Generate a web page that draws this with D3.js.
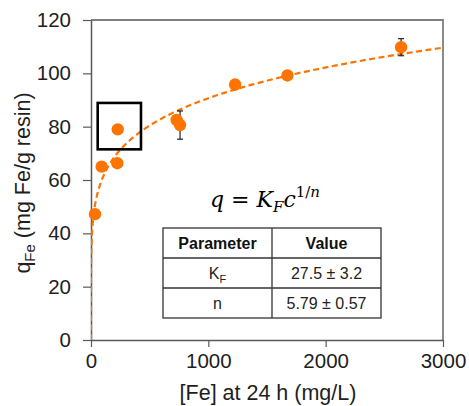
<!DOCTYPE html>
<html>
<head>
<meta charset="utf-8">
<script src="https://cdn.jsdelivr.net/npm/d3@7"></script>
<style>
  body { margin: 0; background: #fff; }
  svg { display: block; font-family: "Liberation Sans", Arial, sans-serif; }
</style>
</head>
<body>
<svg class="chart" width="469" height="406"></svg>
<script>
// measured points
var concentration = [34, 91, 224, 228, 730, 759, 1228, 1674, 2643];
var qFe = [47.2, 65, 66.3, 79, 82.5, 80.6, 95.8, 99.2, 109.8];
var qErr = [0, 0, 0, 0, 0, 5.3, 0, 0, 3.2];

// Freundlich fit parameters
var kF = 27.5, nF = 5.79;

var xTicks = [0, 1000, 2000, 3000];
var yTicks = [0, 20, 40, 60, 80, 100, 120];

var tableHeader = ["Parameter", "Value"];
var tableRows = [["K", "F", "27.5 ± 3.2"], ["n", "", "5.79 ± 0.57"]];

// highlighted region (data units)
var boxX = [57, 426], boxY = [71.5, 88.9];

(function () {
    'use strict';

    var svg = d3.select("svg.chart");
    var mLeft = 91, mRight = 443, mTop = 20, mBottom = 340;
    var ink = "#1e1e1e", orange = "#ff7300";

    var x = d3.scaleLinear().domain([0, 3000]).range([mLeft, mRight]);
    var y = d3.scaleLinear().domain([0, 120]).range([mBottom, mTop]);

    // frame on top/right
    svg.append("path")
        .attr("d", "M" + mLeft + "," + mTop + "H" + mRight + "V" + mBottom)
        .attr("fill", "none")
        .attr("stroke", "#7f7f7f")
        .attr("stroke-width", 1.8);

    var xAxis = svg.append("g")
        .attr("transform", "translate(0," + mBottom + ")")
        .call(d3.axisBottom(x).tickValues(xTicks).tickFormat(d3.format("d"))
            .tickSize(7).tickPadding(6).tickSizeOuter(0));
    var yAxis = svg.append("g")
        .attr("transform", "translate(" + mLeft + ",0)")
        .call(d3.axisLeft(y).tickValues(yTicks).tickFormat(d3.format("d"))
            .tickSize(8).tickPadding(12).tickSizeOuter(0));

    [xAxis, yAxis].forEach(function (a) {
        a.select(".domain").attr("stroke", "#595959").attr("stroke-width", 1.5);
        a.selectAll(".tick line").attr("stroke", "#595959").attr("stroke-width", 1.2);
        a.selectAll(".tick text")
            .attr("fill", ink)
            .attr("font-size", 20.5)
            .attr("font-family", "Liberation Sans, Arial, sans-serif");
    });

    // axis titles
    svg.append("text")
        .attr("x", (mLeft + mRight) / 2 + 1)
        .attr("y", 400)
        .attr("text-anchor", "middle")
        .attr("font-size", 21.5)
        .attr("fill", ink)
        .text("[Fe] at 24 h (mg/L)");

    var yTitle = svg.append("text")
        .attr("transform", "translate(30,183) rotate(-90)")
        .attr("text-anchor", "middle")
        .attr("font-size", 21.5)
        .attr("fill", ink);
    yTitle.append("tspan").text("q");
    yTitle.append("tspan").attr("font-size", 15).attr("dy", 5).text("Fe");
    yTitle.append("tspan").attr("dy", -5).text(" (mg Fe/g resin)");

    // fitted curve
    svg.append("clipPath").attr("id", "plot")
        .append("rect").attr("x", mLeft).attr("y", mTop)
        .attr("width", mRight - mLeft).attr("height", mBottom - mTop);

    var cs = [0].concat(d3.range(-6, Math.log10(3000), 0.01).map(function (e) { return Math.pow(10, e); }));
    cs.push(3000);
    var fitLine = d3.line()
        .x(function (c) { return x(c); })
        .y(function (c) { return y(kF * Math.pow(c, 1 / nF)); });

    svg.append("path")
        .datum(cs)
        .attr("clip-path", "url(#plot)")
        .attr("d", fitLine)
        .attr("fill", "none")
        .attr("stroke", orange)
        .attr("stroke-width", 2.2)
        .attr("stroke-dasharray", "6,3.5");

    // error bars
    var pts = concentration.map(function (c, i) { return { c: c, q: qFe[i], e: qErr[i] }; });
    var eb = svg.append("g").attr("stroke", "#222").attr("stroke-width", 1.2)
        .selectAll("g").data(pts.filter(function (d) { return d.e > 0; }))
        .enter().append("g");
    eb.append("line")
        .attr("x1", function (d) { return x(d.c); }).attr("x2", function (d) { return x(d.c); })
        .attr("y1", function (d) { return y(d.q - d.e); }).attr("y2", function (d) { return y(d.q + d.e); });
    [-1, 1].forEach(function (s) {
        eb.append("line")
            .attr("x1", function (d) { return x(d.c) - 3; }).attr("x2", function (d) { return x(d.c) + 3; })
            .attr("y1", function (d) { return y(d.q + s * d.e); }).attr("y2", function (d) { return y(d.q + s * d.e); });
    });

    svg.append("g").selectAll("circle").data(pts).enter().append("circle")
        .attr("cx", function (d) { return x(d.c); })
        .attr("cy", function (d) { return y(d.q); })
        .attr("r", 6.2)
        .attr("fill", orange);

    // highlight box
    svg.append("rect")
        .attr("x", x(boxX[0])).attr("y", y(boxY[1]))
        .attr("width", x(boxX[1]) - x(boxX[0]))
        .attr("height", y(boxY[0]) - y(boxY[1]))
        .attr("fill", "none")
        .attr("stroke", "#000")
        .attr("stroke-width", 2.6);

    // equation
    var eq = svg.append("text")
        .attr("x", 210).attr("y", 207)
        .attr("font-family", "'DejaVu Serif', serif")
        .attr("font-size", 22)
        .attr("fill", "#000");
    eq.append("tspan").attr("font-style", "italic").text("q");
    eq.append("tspan").text(" = ");
    eq.append("tspan").attr("font-style", "italic").text("K");
    eq.append("tspan").attr("font-style", "italic").attr("font-size", 15).attr("dy", 5).text("F");
    eq.append("tspan").attr("font-style", "italic").attr("dy", -5).text("c");
    eq.append("tspan").attr("font-size", 15).attr("dy", -10).text("1/");
    eq.append("tspan").attr("font-style", "italic").attr("font-size", 15).text("n");

    // parameter table
    var colX = [163, 272, 381], rowY = [228, 258, 288, 318];
    var tbl = svg.append("g");
    tbl.append("rect")
        .attr("x", colX[0]).attr("y", rowY[0])
        .attr("width", colX[2] - colX[0]).attr("height", rowY[3] - rowY[0])
        .attr("fill", "#fff").attr("stroke", "#333").attr("stroke-width", 1.3);
    tbl.append("line").attr("x1", colX[1]).attr("x2", colX[1]).attr("y1", rowY[0]).attr("y2", rowY[3])
        .attr("stroke", "#333").attr("stroke-width", 1.3);
    [rowY[1], rowY[2]].forEach(function (yy) {
        tbl.append("line").attr("x1", colX[0]).attr("x2", colX[2]).attr("y1", yy).attr("y2", yy)
            .attr("stroke", "#333").attr("stroke-width", 1.3);
    });
    tableHeader.forEach(function (h, i) {
        tbl.append("text")
            .attr("x", (colX[i] + colX[i + 1]) / 2).attr("y", rowY[0] + 21)
            .attr("text-anchor", "middle").attr("font-size", 16).attr("font-weight", "bold")
            .attr("fill", "#111").text(h);
    });
    tableRows.forEach(function (r, j) {
        var t = tbl.append("text")
            .attr("x", (colX[0] + colX[1]) / 2).attr("y", rowY[j + 1] + 21)
            .attr("text-anchor", "middle").attr("font-size", 16).attr("fill", "#222");
        t.append("tspan").text(r[0]);
        if (r[1]) t.append("tspan").attr("font-size", 11).attr("dy", 4).text(r[1]);
        tbl.append("text")
            .attr("x", (colX[1] + colX[2]) / 2).attr("y", rowY[j + 1] + 21)
            .attr("text-anchor", "middle").attr("font-size", 16).attr("fill", "#222")
            .text(r[2]);
    });
})();
</script>
</body>
</html>
